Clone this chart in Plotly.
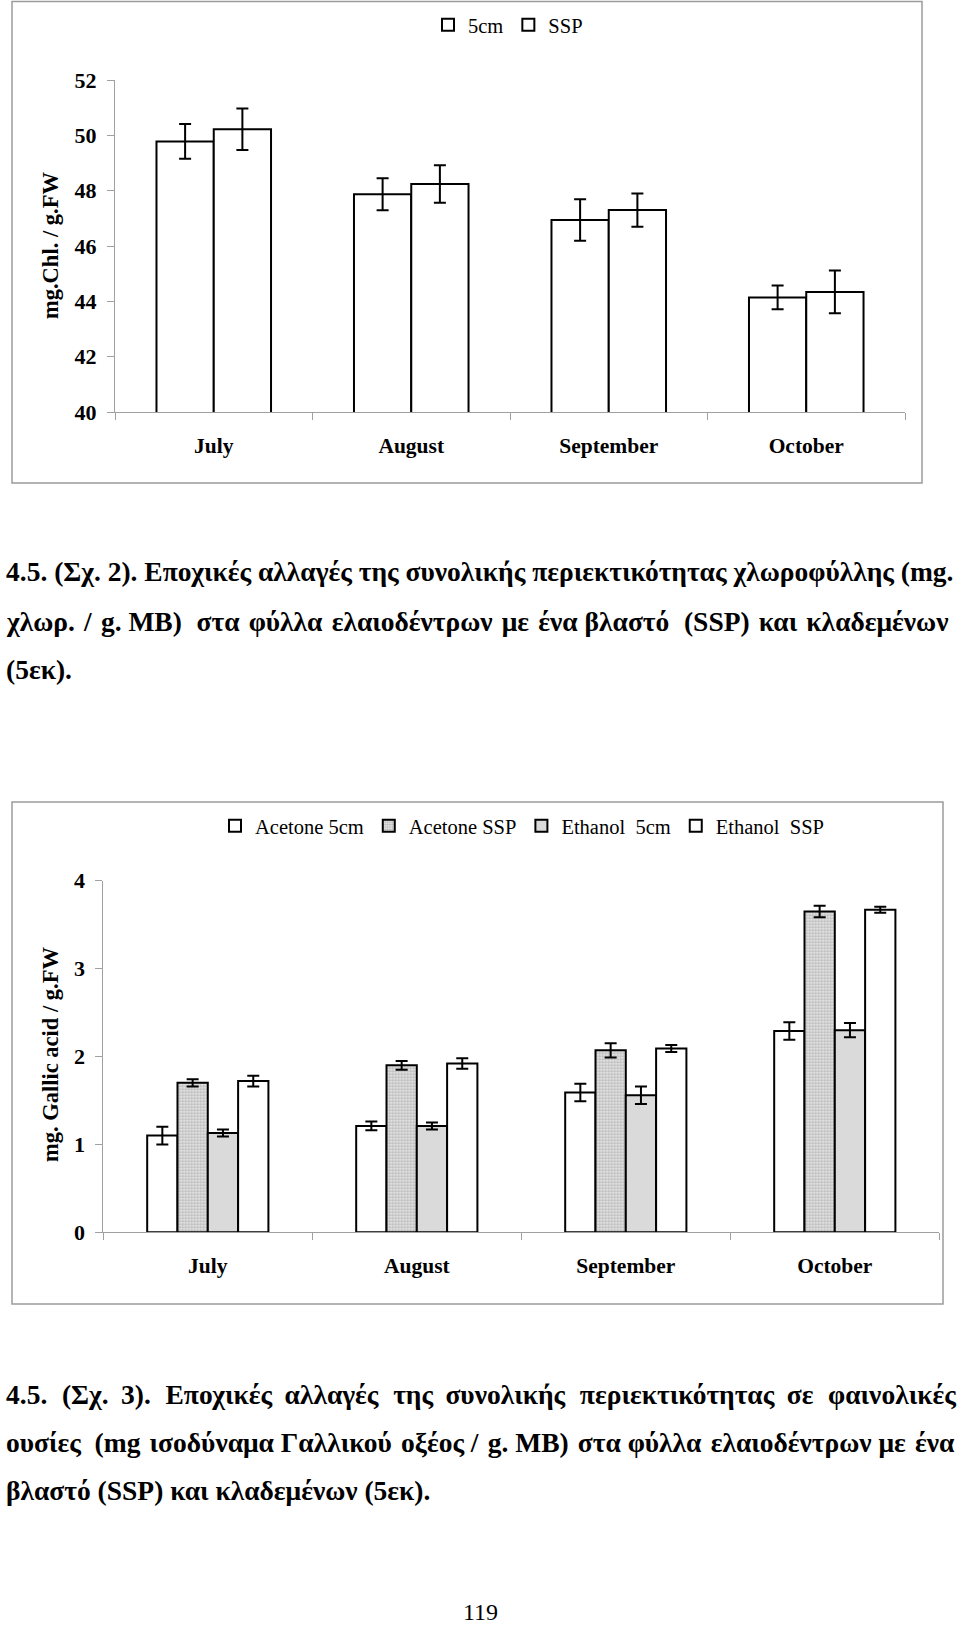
import plotly.graph_objects as go

# ---------------- data ----------------
months = ["July", "August", "September", "October"]

chl_names = ["5cm", "SSP"]
chl_5cm = [49.78, 47.87, 46.94, 44.14]
chl_5cm_err = [0.63, 0.58, 0.75, 0.43]
chl_ssp = [50.22, 48.24, 47.30, 44.34]
chl_ssp_err = [0.75, 0.68, 0.60, 0.77]
chl_yticks = [40, 42, 44, 46, 48, 50, 52]

phen_names = ["Acetone 5cm", "Acetone SSP", "Ethanol  5cm", "Ethanol  SSP"]
ac_5cm = [1.10, 1.21, 1.59, 2.29]
ac_5cm_err = [0.10, 0.05, 0.10, 0.10]
ac_ssp = [1.70, 1.90, 2.07, 3.65]
ac_ssp_err = [0.04, 0.05, 0.08, 0.065]
et_5cm = [1.13, 1.21, 1.56, 2.30]
et_5cm_err = [0.04, 0.04, 0.10, 0.08]
et_ssp = [1.72, 1.92, 2.09, 3.67]
et_ssp_err = [0.06, 0.06, 0.04, 0.035]
phen_yticks = [0, 1, 2, 3, 4]

caption1 = [
    "4.5. (Σχ. 2). Εποχικές αλλαγές της συνολικής περιεκτικότητας χλωροφύλλης (mg.",
    "χλωρ. / g. MB) στα φύλλα ελαιοδέντρων με ένα βλαστό (SSP) και κλαδεμένων",
    "(5εκ).",
]
caption2 = [
    "4.5. (Σχ. 3). Εποχικές αλλαγές της συνολικής περιεκτικότητας σε φαινολικές",
    "ουσίες  (mg ισοδύναμα Γαλλικού οξέος / g. MB) στα φύλλα ελαιοδέντρων με ένα",
    "βλαστό (SSP) και κλαδεμένων (5εκ).",
]
page_number = "119"

# ---------------- layout constants ----------------
W, H = 960, 1625
SERIF = "Liberation Serif, Times New Roman, serif"
AXIS_GRAY = "#a0a0a0"


def px_x(v):
    return v / W


def px_y(v):
    return 1 - v / H


def justify(line, filler, n_gaps):
    """Widen n word gaps (spread evenly along the line) with extra thin/hair spaces."""
    words = line.split(" ")
    gaps = len(words) - 1
    chosen = set()
    for k in range(n_gaps):
        chosen.add(int((k + 0.5) * gaps / n_gaps))
    out = words[0]
    for i, w in enumerate(words[1:]):
        out += " " + (filler if (i in chosen and w != "") else "") + w
    return out


err_style = dict(type="data", visible=True, color="black", thickness=2, width=6)

fig = go.Figure()

# top chart
for name, vals, errs in [(chl_names[0], chl_5cm, chl_5cm_err), (chl_names[1], chl_ssp, chl_ssp_err)]:
    fig.add_trace(go.Bar(
        x=months, y=vals, name=name, xaxis="x", yaxis="y", legend="legend",
        marker=dict(color="white", line=dict(color="black", width=2)),
        error_y=dict(array=errs, **err_style),
    ))

# bottom chart
bottom_specs = [
    (phen_names[0], ac_5cm, ac_5cm_err, dict(color="white")),
    (phen_names[1], ac_ssp, ac_ssp_err,
     dict(color="white", pattern=dict(shape=".", size=3, solidity=0.6, fgcolor="#7c7c7c", bgcolor="#f2f2f2"))),
    (phen_names[2], et_5cm, et_5cm_err, dict(color="#dadada")),
    (phen_names[3], et_ssp, et_ssp_err, dict(color="white")),
]
for name, vals, errs, mk in bottom_specs:
    fig.add_trace(go.Bar(
        x=months, y=vals, name=name, xaxis="x2", yaxis="y2", legend="legend2",
        marker=dict(line=dict(color="black", width=2), **mk),
        error_y=dict(array=errs, **err_style),
    ))

axis_common = dict(showline=True, linecolor=AXIS_GRAY, linewidth=1, showgrid=False,
                   zeroline=False, ticks="outside", tickcolor=AXIS_GRAY, ticklen=7)
xfont = dict(family=SERIF, size=21.5, color="black", weight="bold")
yfont = dict(family=SERIF, size=22, color="black", weight="bold")

fig.update_layout(
    width=W, height=H, autosize=False,
    margin=dict(l=0, r=0, t=0, b=0, autoexpand=False),
    paper_bgcolor="white", plot_bgcolor="white",
    barmode="group", bargap=0.42,
    showlegend=True,
    xaxis=dict(domain=[px_x(115), px_x(905)], anchor="y", type="category",
               tickson="boundaries", ticklabelstandoff=14, tickfont=xfont, **axis_common),
    yaxis=dict(domain=[px_y(412), px_y(80)], anchor="x", range=[40, 52],
               tickvals=chl_yticks, ticklabelstandoff=6, tickfont=yfont, **axis_common),
    xaxis2=dict(domain=[px_x(103.3), px_x(939.3)], anchor="y2", type="category",
                tickson="boundaries", ticklabelstandoff=14, tickfont=xfont, **axis_common),
    yaxis2=dict(domain=[px_y(1232.3), px_y(880.7)], anchor="x2", range=[0, 4],
                tickvals=phen_yticks, ticklabelstandoff=6, tickfont=yfont, **axis_common),
    legend=dict(orientation="h", x=px_x(508), y=px_y(25), xanchor="center", yanchor="middle",
                font=dict(family=SERIF, size=20.5, color="black"), bgcolor="rgba(0,0,0,0)",
                itemwidth=30, tracegroupgap=0),
    legend2=dict(orientation="h", x=px_x(522), y=px_y(826), xanchor="center", yanchor="middle",
                 font=dict(family=SERIF, size=20.5, color="black"), bgcolor="rgba(0,0,0,0)",
                 itemwidth=30, tracegroupgap=0),
)

# frames around the two charts
frame = dict(type="rect", xref="paper", yref="paper", line=dict(color="#9c9c9c", width=1.5),
             fillcolor="rgba(0,0,0,0)", layer="below")
fig.add_shape(x0=px_x(12), x1=px_x(922), y0=px_y(483), y1=px_y(1.5), **frame)
fig.add_shape(x0=px_x(12), x1=px_x(943), y0=px_y(1304), y1=px_y(802), **frame)

# axis titles
tfont = dict(family=SERIF, size=22.5, color="black", weight="bold")
fig.add_annotation(text="mg.Chl. / g.FW", x=px_x(50), y=px_y(246), xref="paper", yref="paper",
                   textangle=-90, showarrow=False, xanchor="center", yanchor="middle", font=tfont)
fig.add_annotation(text="mg. Gallic acid / g.FW", x=px_x(50), y=px_y(1055), xref="paper", yref="paper",
                   textangle=-90, showarrow=False, xanchor="center", yanchor="middle", font=tfont)

# captions (justified lines get slightly widened word gaps)
cap1_lines = [
    caption1[0],
    justify(justify(caption1[1], "\u200a", 10), "\u2009", 2),
    caption1[2],
]
cap2_lines = [
    justify(justify(caption2[0], "\u2009", 9), "\u200a", 5),
    justify(caption2[1], "\u200a", 7),
    caption2[2],
]
cfont = dict(family=SERIF, size=27.5, color="black", weight="bold")
for lines, ys in [(cap1_lines, [571, 621, 670]), (cap2_lines, [1394, 1442, 1490])]:
    for line, yy in zip(lines, ys):
        fig.add_annotation(text=line, x=px_x(4), y=px_y(yy), xref="paper", yref="paper",
                           showarrow=False, xanchor="left", yanchor="middle", font=cfont)

fig.add_annotation(text=page_number, x=px_x(480), y=px_y(1612), xref="paper", yref="paper",
                   showarrow=False, xanchor="center", yanchor="middle",
                   font=dict(family=SERIF, size=24, color="black"))

post = (
    "document.documentElement.style.margin='0px';"
    "document.documentElement.style.overflow='hidden';"
    "document.body.style.margin='0px';"
    "document.body.style.overflow='hidden';"
    "var d=document.getElementById('{plot_id}');"
    "d.style.position='fixed';d.style.left='0px';d.style.top='0px';"
)
fig.write_html("out.html", post_script=post, config={"displayModeBar": False, "responsive": False})
